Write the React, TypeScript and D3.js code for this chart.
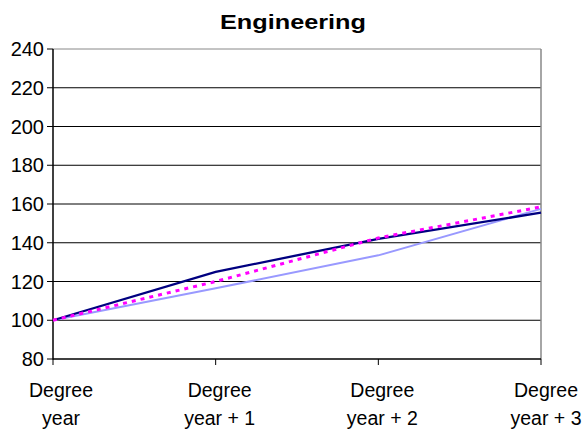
import React from "react";
import * as d3 from "d3";

const categories = ["Degree year", "Degree year + 1", "Degree year + 2", "Degree year + 3"];
const categoryLines = [["Degree", "year"], ["Degree", "year + 1"], ["Degree", "year + 2"], ["Degree", "year + 3"]];
const seriesNavy = [100, 125, 142, 155.5];
const seriesLight = [100, 116.5, 133.5, 157.5];
const seriesMagenta = [100, 120, 142.5, 158.5];
const yTicks = [80, 100, 120, 140, 160, 180, 200, 220, 240];

export default function App() {
  const W = 584, H = 435;
  const left = 53, right = 541, top = 49, bottom = 359;
  const x = d3.scalePoint<string>().domain(categories).range([left, right]);
  const y = d3.scaleLinear().domain([80, 240]).range([bottom, top]);
  const line = d3.line<number>().x((_, i) => x(categories[i]) as number).y(d => y(d));
  const font = "Arial, 'Liberation Sans', sans-serif";
  const labelOffsets = [8, 4, 4, 5];
  return (
    <svg width={W} height={H} style={{ position: "absolute", left: 0, top: 0, background: "#fff" }} fontFamily={font}>
      <text x={293} y={29} textAnchor="middle" fontSize={21} fontWeight="bold" textLength={146} lengthAdjust="spacingAndGlyphs">Engineering</text>
      {yTicks.map(t => (
        <g key={t}>
          {t > 80 && <line x1={left} x2={right} y1={y(t)} y2={y(t)} stroke={t === 240 ? "#888" : "#000"} strokeWidth={1} />}
          <line x1={left - 6} x2={left} y1={y(t)} y2={y(t)} stroke="#000" strokeWidth={1} />
          <text x={44} y={y(t)} dy="0.36em" textAnchor="end" fontSize={20}>{t}</text>
        </g>
      ))}
      <line x1={right} x2={right} y1={top} y2={bottom} stroke="#888" strokeWidth={1.5} />
      <line x1={left} x2={left} y1={top} y2={bottom + 0.5} stroke="#000" strokeWidth={1.5} />
      <line x1={left} x2={right} y1={bottom} y2={bottom} stroke="#000" strokeWidth={1.5} />
      {categories.map((c, i) => (
        <g key={c}>
          <line x1={x(c)} x2={x(c)} y1={bottom} y2={bottom + 6} stroke="#000" strokeWidth={1} />
          <text x={(x(c) as number) + labelOffsets[i]} y={397} textAnchor="middle" fontSize={19.5}>{categoryLines[i][0]}</text>
          <text x={(x(c) as number) + labelOffsets[i]} y={425} textAnchor="middle" fontSize={19.5}>{categoryLines[i][1]}</text>
        </g>
      ))}
      <path d={line(seriesLight) || ""} fill="none" stroke="#9999FF" strokeWidth={2} />
      <path d={line(seriesNavy) || ""} fill="none" stroke="#000080" strokeWidth={2.3} />
      <path d={line(seriesMagenta) || ""} fill="none" stroke="#FF00FF" strokeWidth={3} strokeDasharray="4,5" />
    </svg>
  );
}
